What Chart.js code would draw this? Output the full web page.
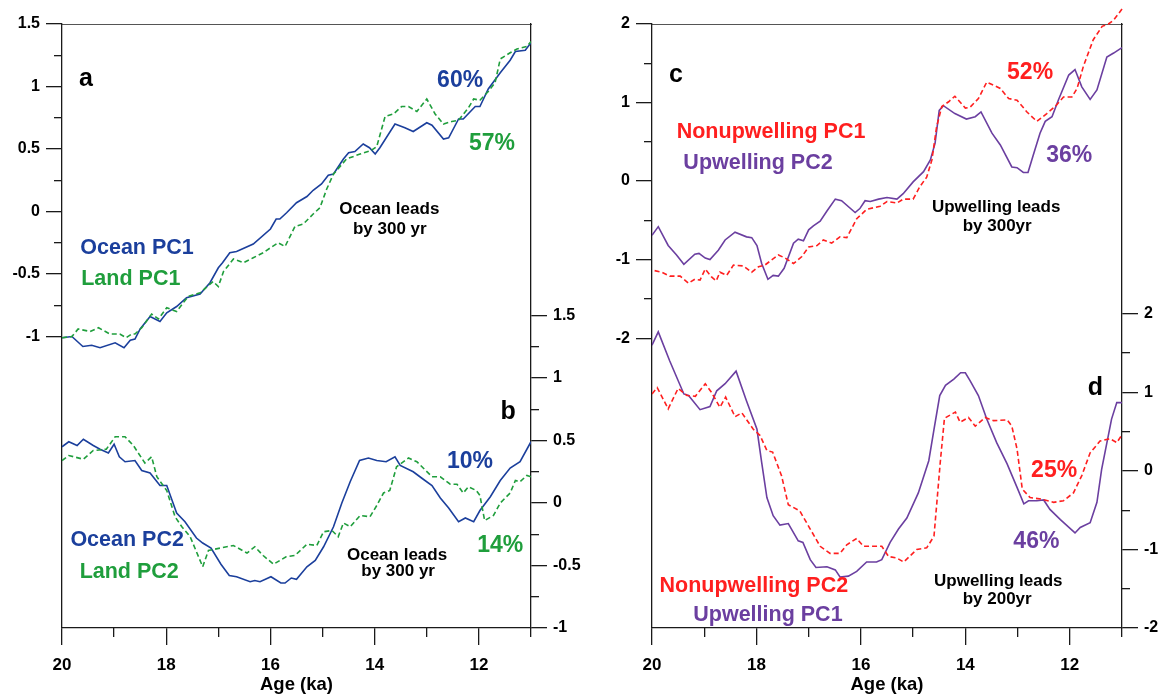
<!DOCTYPE html>
<html>
<head>
<meta charset="utf-8">
<script src="https://cdn.jsdelivr.net/npm/chart.js@4.4.0/dist/chart.umd.min.js"></script>
<style>
  body { margin: 0; background: #fff; }
  canvas { position: absolute; left: 0; top: 0; }
</style>
</head>
<body>
<canvas id="left-panel" width="1163" height="697"></canvas>
<canvas id="right-panel" width="1163" height="697"></canvas>
<script>
// ages in ka, values are PC scores
const ageMajorTicks = [20, 18, 16, 14, 12]
const ageMinorTicks = [19, 17, 15, 13, 11]
const abMajorTicks = [-1, -0.5, 0, 0.5, 1, 1.5]
const abMinorTicks = [-0.75, -0.25, 0.25, 0.75, 1.25]
const cdMajorTicks = [-2, -1, 0, 1, 2]
const cdMinorTicks = [-1.5, -0.5, 0.5, 1.5]

// panel a
const oceanPC1 = [[20,-1.01],[19.81,-1.0],[19.6,-1.08],[19.43,-1.07],[19.27,-1.09],[18.98,-1.05],[18.81,-1.09],[18.69,-1.03],[18.6,-1.02],[18.5,-0.94],[18.31,-0.84],[18.12,-0.88],[17.99,-0.81],[17.8,-0.76],[17.61,-0.69],[17.35,-0.66],[17.16,-0.57],[17.0,-0.45],[16.92,-0.41],[16.78,-0.33],[16.65,-0.32],[16.33,-0.26],[16.0,-0.14],[15.89,-0.06],[15.82,-0.06],[15.69,-0.01],[15.5,0.07],[15.3,0.12],[15.18,0.17],[15.02,0.22],[14.89,0.29],[14.79,0.30],[14.6,0.42],[14.5,0.47],[14.38,0.48],[14.22,0.54],[14.1,0.51],[13.99,0.46],[13.9,0.51],[13.61,0.70],[13.42,0.67],[13.26,0.64],[13.0,0.71],[12.9,0.69],[12.68,0.58],[12.58,0.59],[12.39,0.74],[12.3,0.74],[12.07,0.84],[11.98,0.84],[11.82,0.98],[11.59,1.11],[11.4,1.21],[11.3,1.28],[11.11,1.29],[11.0,1.35]]
const landPC1 = [[20,-1.01],[19.81,-1.0],[19.69,-0.94],[19.46,-0.96],[19.3,-0.93],[19.08,-0.98],[18.89,-0.98],[18.77,-1.01],[18.66,-0.98],[18.6,-0.98],[18.47,-0.93],[18.28,-0.82],[18.15,-0.86],[17.99,-0.77],[17.8,-0.80],[17.58,-0.68],[17.35,-0.65],[17.1,-0.56],[17.0,-0.60],[16.9,-0.48],[16.71,-0.38],[16.52,-0.41],[16.33,-0.37],[16.14,-0.33],[16.0,-0.29],[15.85,-0.25],[15.72,-0.28],[15.53,-0.12],[15.37,-0.10],[15.18,-0.02],[15.05,0.03],[14.92,0.18],[14.79,0.30],[14.54,0.42],[14.28,0.46],[14.06,0.49],[13.96,0.52],[13.8,0.76],[13.64,0.78],[13.48,0.84],[13.35,0.84],[13.19,0.80],[13.0,0.90],[12.84,0.78],[12.68,0.70],[12.52,0.72],[12.39,0.73],[12.2,0.83],[12.1,0.90],[11.98,0.89],[11.82,0.96],[11.69,1.03],[11.59,1.22],[11.4,1.27],[11.27,1.30],[11.08,1.32],[11.0,1.36]]

// panel b
const oceanPC2 = [[20,0.45],[19.87,0.49],[19.71,0.46],[19.59,0.51],[19.4,0.46],[19.27,0.43],[19.11,0.40],[19.0,0.47],[18.9,0.37],[18.79,0.33],[18.6,0.34],[18.47,0.26],[18.31,0.24],[18.12,0.14],[17.99,0.14],[17.8,-0.08],[17.64,-0.15],[17.42,-0.28],[17.3,-0.32],[17.14,-0.36],[16.95,-0.49],[16.79,-0.58],[16.65,-0.59],[16.39,-0.63],[16.3,-0.62],[16.2,-0.63],[15.99,-0.59],[15.8,-0.64],[15.72,-0.64],[15.6,-0.60],[15.5,-0.61],[15.3,-0.51],[15.14,-0.46],[14.98,-0.35],[14.79,-0.19],[14.63,0.0],[14.47,0.17],[14.29,0.34],[14.12,0.36],[13.96,0.34],[13.78,0.33],[13.61,0.37],[13.51,0.30],[13.26,0.25],[13.1,0.20],[12.9,0.14],[12.74,0.04],[12.58,-0.04],[12.39,-0.15],[12.26,-0.12],[12.1,-0.15],[11.98,-0.06],[11.78,0.05],[11.59,0.18],[11.4,0.28],[11.21,0.33],[11.0,0.49]]
const landPC2 = [[20,0.34],[19.87,0.38],[19.59,0.35],[19.4,0.42],[19.15,0.43],[18.98,0.53],[18.79,0.53],[18.63,0.46],[18.41,0.32],[18.28,0.37],[18.18,0.21],[17.99,0.10],[17.83,-0.11],[17.7,-0.19],[17.54,-0.27],[17.3,-0.51],[17.19,-0.38],[16.96,-0.36],[16.71,-0.34],[16.45,-0.40],[16.3,-0.35],[16.14,-0.42],[15.94,-0.49],[15.7,-0.43],[15.53,-0.42],[15.3,-0.33],[15.11,-0.34],[14.98,-0.23],[14.82,-0.22],[14.7,-0.27],[14.6,-0.16],[14.47,-0.19],[14.28,-0.10],[14.09,-0.11],[13.96,-0.02],[13.83,0.08],[13.71,0.10],[13.58,0.29],[13.35,0.36],[13.19,0.33],[12.9,0.21],[12.74,0.21],[12.55,0.15],[12.42,0.15],[12.3,0.08],[12.2,0.13],[12.05,0.10],[11.98,0.06],[11.89,-0.14],[11.72,-0.10],[11.59,0.0],[11.4,0.08],[11.3,0.18],[11.21,0.17],[11.08,0.22],[11.0,0.21]]

// panel c
const upwellingPC2 = [[20,-0.69],[19.88,-0.58],[19.69,-0.82],[19.53,-0.94],[19.39,-1.06],[19.18,-0.93],[19.1,-0.92],[18.98,-0.98],[18.89,-1.0],[18.73,-0.88],[18.6,-0.75],[18.41,-0.65],[18.19,-0.71],[18.09,-0.72],[17.99,-0.82],[17.9,-1.05],[17.78,-1.25],[17.68,-1.20],[17.58,-1.21],[17.47,-1.11],[17.29,-0.79],[17.2,-0.74],[17.1,-0.76],[17.0,-0.62],[16.91,-0.57],[16.78,-0.51],[16.65,-0.38],[16.49,-0.23],[16.37,-0.25],[16.11,-0.40],[16.02,-0.35],[15.92,-0.25],[15.82,-0.26],[15.66,-0.23],[15.5,-0.21],[15.31,-0.23],[15.19,-0.16],[15.0,-0.01],[14.8,0.12],[14.67,0.27],[14.58,0.48],[14.5,0.90],[14.42,0.96],[14.2,0.86],[13.98,0.79],[13.81,0.82],[13.7,0.88],[13.49,0.61],[13.33,0.46],[13.11,0.18],[13.01,0.17],[12.89,0.11],[12.8,0.11],[12.7,0.33],[12.57,0.61],[12.47,0.76],[12.34,0.82],[12.22,1.03],[12.02,1.35],[11.9,1.42],[11.77,1.20],[11.61,1.04],[11.48,1.16],[11.29,1.58],[11.16,1.63],[11.0,1.70]]
const nonupwellingPC1 = [[19.95,-1.14],[19.81,-1.16],[19.66,-1.21],[19.46,-1.21],[19.3,-1.30],[19.18,-1.25],[19.08,-1.26],[18.98,-1.12],[18.86,-1.22],[18.77,-1.27],[18.7,-1.16],[18.57,-1.20],[18.44,-1.07],[18.25,-1.08],[18.09,-1.16],[17.96,-1.09],[17.84,-1.07],[17.58,-0.94],[17.45,-0.98],[17.29,-1.05],[17.13,-0.96],[17.0,-0.84],[16.84,-0.82],[16.72,-0.75],[16.56,-0.79],[16.4,-0.71],[16.27,-0.72],[16.08,-0.48],[15.89,-0.36],[15.63,-0.32],[15.5,-0.26],[15.31,-0.28],[15.19,-0.23],[15.0,-0.23],[14.87,-0.07],[14.74,0.05],[14.64,0.27],[14.55,0.69],[14.45,0.95],[14.32,1.01],[14.2,1.08],[14.0,0.93],[13.91,0.94],[13.75,1.05],[13.59,1.26],[13.33,1.18],[13.17,1.05],[13.01,1.03],[12.82,0.88],[12.63,0.76],[12.44,0.86],[12.28,0.95],[12.12,1.07],[11.96,1.07],[11.86,1.18],[11.74,1.46],[11.55,1.80],[11.38,1.97],[11.26,2.0],[11.16,2.05],[11.0,2.19]]

// panel d
const upwellingPC1 = [[20,1.60],[19.88,1.77],[19.66,1.40],[19.39,0.98],[19.3,0.96],[19.08,0.78],[18.89,0.82],[18.76,1.02],[18.6,1.11],[18.39,1.27],[18.19,0.89],[17.99,0.53],[17.9,0.11],[17.8,-0.34],[17.68,-0.57],[17.55,-0.69],[17.39,-0.67],[17.2,-0.89],[17.11,-0.91],[16.97,-1.13],[16.86,-1.23],[16.65,-1.22],[16.49,-1.26],[16.4,-1.35],[16.24,-1.34],[16.08,-1.28],[15.89,-1.16],[15.7,-1.16],[15.6,-1.13],[15.44,-0.91],[15.28,-0.74],[15.12,-0.60],[14.9,-0.28],[14.7,0.13],[14.6,0.53],[14.49,0.96],[14.38,1.09],[14.22,1.17],[14.09,1.25],[14.0,1.25],[13.91,1.15],[13.75,0.96],[13.59,0.66],[13.4,0.36],[13.2,0.09],[13.01,-0.21],[12.88,-0.42],[12.79,-0.38],[12.63,-0.38],[12.5,-0.37],[12.38,-0.49],[12.18,-0.62],[11.9,-0.79],[11.8,-0.72],[11.61,-0.66],[11.48,-0.40],[11.39,0.02],[11.2,0.66],[11.1,0.87],[11.0,0.87]]
const nonupwellingPC2 = [[20,0.98],[19.9,1.06],[19.69,0.79],[19.5,1.05],[19.33,0.96],[19.17,0.95],[18.98,1.11],[18.86,1.0],[18.7,0.81],[18.59,0.94],[18.41,0.69],[18.28,0.74],[18.06,0.53],[17.93,0.45],[17.8,0.26],[17.69,0.24],[17.52,-0.06],[17.39,-0.43],[17.17,-0.51],[16.97,-0.74],[16.78,-0.96],[16.59,-1.05],[16.4,-1.05],[16.27,-0.94],[16.08,-0.86],[15.95,-0.96],[15.6,-0.96],[15.47,-1.09],[15.31,-1.11],[15.18,-1.16],[14.93,-1.0],[14.74,-0.98],[14.6,-0.83],[14.48,0.11],[14.4,0.67],[14.19,0.75],[14.1,0.62],[13.94,0.68],[13.81,0.57],[13.62,0.68],[13.46,0.64],[13.2,0.65],[13.11,0.57],[13.01,0.28],[12.91,-0.23],[12.76,-0.34],[12.53,-0.36],[12.31,-0.40],[12.12,-0.38],[11.93,-0.28],[11.77,-0.06],[11.61,0.23],[11.42,0.38],[11.23,0.41],[11.1,0.36],[11.0,0.46]]

const W = 1163
const H = 697
const FONT = '"Liberation Sans", Arial, sans-serif'
const BLUE = "#1b3f9c"
const GREEN = "#1f9e3c"
const RED = "#ff1f1f"
const PURPLE = "#6b3fa0"
const AXIS = "#1a1a1a"

Chart.defaults.font.family = FONT
Chart.defaults.color = "#000"

// text on the panels, placed in data units
const leftTexts = [
    { text: "a", x: 19.54, y: 1.06, axis: "yA", color: "#000", size: 25 },
    { text: "Ocean PC1", x: 18.56, y: -0.29, axis: "yA", color: BLUE, size: 21.5 },
    { text: "Land PC1", x: 18.68, y: -0.54, axis: "yA", color: GREEN, size: 21.5 },
    { text: "60%", x: 12.36, y: 1.05, axis: "yA", color: BLUE, size: 23 },
    { text: "57%", x: 11.75, y: 0.54, axis: "yA", color: GREEN, size: 23 },
    { text: "Ocean leads", x: 13.72, y: 0.02, axis: "yA", color: "#000", size: 17 },
    { text: "by 300 yr", x: 13.71, y: -0.14, axis: "yA", color: "#000", size: 17 },
    { text: "b", x: 11.44, y: 0.73, axis: "yB", color: "#000", size: 25 },
    { text: "10%", x: 12.17, y: 0.33, axis: "yB", color: BLUE, size: 23 },
    { text: "14%", x: 11.59, y: -0.34, axis: "yB", color: GREEN, size: 23 },
    { text: "Ocean leads", x: 13.57, y: -0.42, axis: "yB", color: "#000", size: 17 },
    { text: "by 300 yr", x: 13.55, y: -0.55, axis: "yB", color: "#000", size: 17 },
    { text: "Ocean PC2", x: 18.75, y: -0.3, axis: "yB", color: BLUE, size: 21.5 },
    { text: "Land PC2", x: 18.71, y: -0.55, axis: "yB", color: GREEN, size: 21.5 },
]
const rightTexts = [
    { text: "c", x: 19.54, y: 1.35, axis: "yC", color: "#000", size: 25 },
    { text: "Nonupwelling PC1", x: 17.72, y: 0.62, axis: "yC", color: RED, size: 21.5 },
    { text: "Upwelling PC2", x: 17.97, y: 0.23, axis: "yC", color: PURPLE, size: 21.5 },
    { text: "52%", x: 12.76, y: 1.38, axis: "yC", color: RED, size: 23 },
    { text: "36%", x: 12.01, y: 0.33, axis: "yC", color: PURPLE, size: 23 },
    { text: "Upwelling leads", x: 13.41, y: -0.34, axis: "yC", color: "#000", size: 17 },
    { text: "by 300yr", x: 13.39, y: -0.57, axis: "yC", color: "#000", size: 17 },
    { text: "d", x: 11.51, y: 1.06, axis: "yD", color: "#000", size: 25 },
    { text: "25%", x: 12.3, y: 0.0, axis: "yD", color: RED, size: 23 },
    { text: "46%", x: 12.64, y: -0.9, axis: "yD", color: PURPLE, size: 23 },
    { text: "Upwelling leads", x: 13.37, y: -1.4, axis: "yD", color: "#000", size: 17 },
    { text: "by 200yr", x: 13.39, y: -1.64, axis: "yD", color: "#000", size: 17 },
    { text: "Nonupwelling PC2", x: 18.05, y: -1.46, axis: "yD", color: RED, size: 21.5 },
    { text: "Upwelling PC1", x: 17.78, y: -1.83, axis: "yD", color: PURPLE, size: 21.5 },
]

function toPoints(pairs) {
    return pairs.map(([x, y]) => ({ x, y }))
}

function fixedTicks(values) {
    return (scale) => {
        scale.ticks = values.map((value) => ({ value }))
    }
}

function panelTextPlugin(items) {
    return {
        id: "panelText",
        afterDatasetsDraw(chart) {
            const { ctx, scales } = chart
            ctx.save()
            ctx.textAlign = "center"
            ctx.textBaseline = "middle"
            for (const t of items) {
                ctx.font = `bold ${t.size}px ${FONT}`
                ctx.fillStyle = t.color
                ctx.fillText(t.text, scales.x.getPixelForValue(t.x), scales[t.axis].getPixelForValue(t.y))
            }
            ctx.restore()
        },
    }
}

// one labelled axis plus a zero-width twin that only carries the short minor ticks
function valueAxes(id, position, min, max, major, minor, width) {
    const majorAxis = {
        type: "linear",
        position,
        min,
        max,
        weight: 1,
        afterBuildTicks: fixedTicks(major),
        afterFit: (s) => { s.width = width },
        grid: { drawOnChartArea: false, tickLength: 16, color: AXIS, lineWidth: 1.3 },
        border: { color: AXIS, width: 1.3 },
        ticks: {
            autoSkip: false,
            padding: 6,
            color: "#000",
            font: { size: 16, weight: "bold" },
            callback: (v) => String(v),
        },
    }
    const minorAxis = {
        type: "linear",
        position,
        min,
        max,
        weight: 0,
        afterBuildTicks: fixedTicks(minor),
        afterFit: (s) => { s.width = 0 },
        grid: { drawOnChartArea: false, tickLength: 8, color: AXIS, lineWidth: 1.3 },
        border: { display: false },
        ticks: { display: false },
    }
    return { [id]: majorAxis, [id + "Minor"]: minorAxis }
}

function ageAxes(bottomSize) {
    return {
        x: {
            type: "linear",
            position: "bottom",
            min: 11,
            max: 20,
            reverse: true,
            weight: 1,
            afterBuildTicks: fixedTicks(ageMajorTicks),
            afterFit: (s) => { s.height = bottomSize },
            grid: { drawOnChartArea: false, tickLength: 17, color: AXIS, lineWidth: 1.3 },
            border: { color: AXIS, width: 1.3 },
            ticks: {
                autoSkip: false,
                maxRotation: 0,
                padding: 10,
                color: "#000",
                font: { size: 17, weight: "bold" },
                callback: (v) => String(v),
            },
            title: {
                display: true,
                text: "Age (ka)",
                color: "#000",
                font: { size: 18.5, weight: "bold" },
                padding: { top: 0, bottom: 1 },
            },
        },
        xMinor: {
            type: "linear",
            position: "bottom",
            min: 11,
            max: 20,
            reverse: true,
            weight: 0,
            afterBuildTicks: fixedTicks(ageMinorTicks),
            afterFit: (s) => { s.height = 0 },
            grid: { drawOnChartArea: false, tickLength: 9, color: AXIS, lineWidth: 1.3 },
            border: { display: false },
            ticks: { display: false },
        },
        xTop: {
            type: "linear",
            position: "top",
            min: 11,
            max: 20,
            reverse: true,
            afterFit: (s) => { s.height = 24 },
            grid: { display: false },
            border: { color: "#555", width: 1 },
            ticks: { display: false },
        },
    }
}

function line(points, axis, color, dashed) {
    return {
        data: toPoints(points),
        yAxisID: axis,
        borderColor: color,
        borderWidth: 1.6,
        borderDash: dashed ? [5, 3] : [],
        pointRadius: 0,
        tension: 0,
        fill: false,
    }
}

const baseOptions = {
    responsive: false,
    animation: false,
    layout: { padding: 0 },
    plugins: { legend: { display: false }, tooltip: { enabled: false } },
}

// left figure: a (left axis) over b (right axis)
new Chart(document.getElementById("left-panel"), {
    type: "line",
    data: {
        datasets: [
            line(landPC1, "yA", GREEN, true),
            line(oceanPC1, "yA", BLUE, false),
            line(landPC2, "yB", GREEN, true),
            line(oceanPC2, "yB", BLUE, false),
        ],
    },
    options: {
        ...baseOptions,
        scales: {
            ...ageAxes(H - 628),
            ...valueAxes("yA", "left", -3.332, 1.5, abMajorTicks, abMinorTicks, 62),
            ...valueAxes("yB", "right", -1, 3.832, abMajorTicks, abMinorTicks, W - 531),
        },
    },
    plugins: [panelTextPlugin(leftTexts)],
})

// right figure: c (left axis) over d (right axis)
const redC = line(nonupwellingPC1, "yC", RED, true)
redC.clip = false

new Chart(document.getElementById("right-panel"), {
    type: "line",
    data: {
        datasets: [
            redC,
            line(upwellingPC2, "yC", PURPLE, false),
            line(nonupwellingPC2, "yD", RED, true),
            line(upwellingPC1, "yD", PURPLE, false),
        ],
    },
    options: {
        ...baseOptions,
        scales: {
            ...ageAxes(H - 628),
            ...valueAxes("yC", "left", -5.69, 2, cdMajorTicks, cdMinorTicks, 652),
            ...valueAxes("yD", "right", -2, 5.69, cdMajorTicks, cdMinorTicks, W - 1122),
        },
    },
    plugins: [panelTextPlugin(rightTexts)],
})
</script>
</body>
</html>
